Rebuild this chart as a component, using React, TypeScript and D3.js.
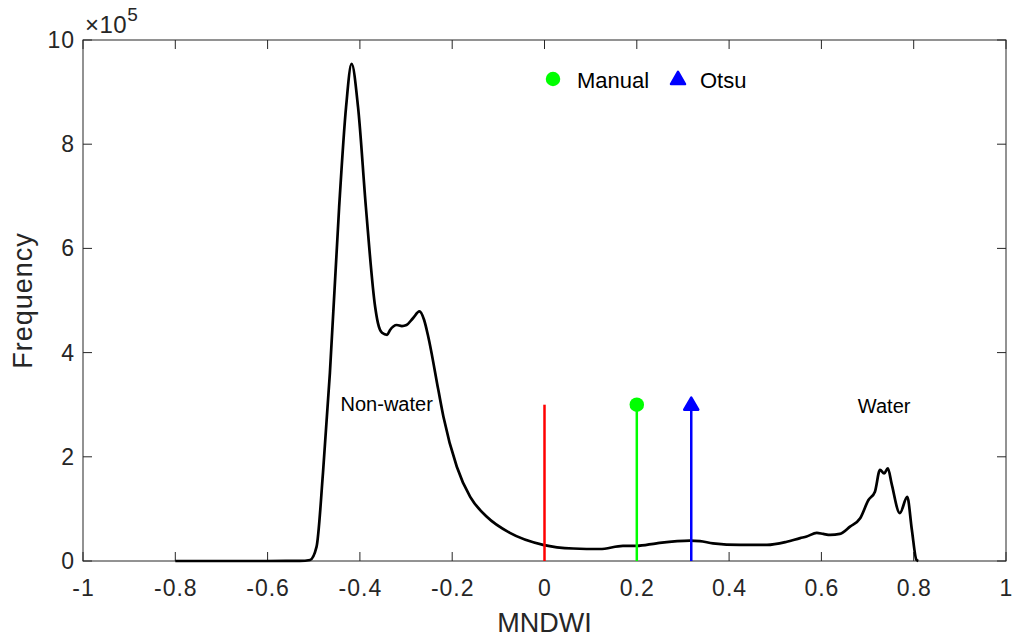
import React, { useEffect, useRef } from 'react';
import * as d3 from 'd3';

// MNDWI histogram (frequency in units of 1e5)
const mndwi = [
  -0.8, -0.7, -0.6, -0.53, -0.508, -0.494, -0.48, -0.465, -0.445, -0.43, -0.418, -0.404, -0.387, -0.367,
  -0.361, -0.352, -0.341, -0.335, -0.32, -0.309, -0.299, -0.285, -0.271, -0.261, -0.252, -0.23, -0.219,
  -0.19, -0.161, -0.125, -0.075, -0.003, 0.062, 0.12, 0.17, 0.2, 0.243, 0.315, 0.337, 0.365, 0.424, 0.482,
  0.525, 0.554, 0.568, 0.59, 0.604, 0.619, 0.64, 0.662, 0.684, 0.702, 0.716, 0.727, 0.736, 0.744, 0.752,
  0.77, 0.786, 0.796, 0.806, 0.81,
];
const frequency = [
  0, 0, 0, 0.002, 0.02, 0.27, 1.69, 3.61, 6.79, 8.71, 9.54, 8.71, 6.79, 4.88,
  4.57, 4.38, 4.34, 4.43, 4.53, 4.51, 4.53, 4.66, 4.79, 4.63, 4.31, 3.28, 2.77,
  1.81, 1.23, 0.85, 0.54, 0.31, 0.24, 0.23, 0.29, 0.29, 0.34, 0.39, 0.38, 0.34, 0.31, 0.31,
  0.37, 0.44, 0.47, 0.54, 0.52, 0.5, 0.52, 0.66, 0.82, 1.17, 1.33, 1.75, 1.68, 1.78, 1.49,
  0.92, 1.23, 0.6, 0.02, 0,
];

// thresholds drawn as stems
const thresholdNames = ['Zero', 'Manual', 'Otsu'];
const thresholdValues = [0, 0.2, 0.318];
const thresholdHeights = [3, 3, 3];
const thresholdColors = ['#ff0000', '#00ff00', '#0000ff'];

const xTicks = [-1, -0.8, -0.6, -0.4, -0.2, 0, 0.2, 0.4, 0.6, 0.8, 1];
const yTicks = [0, 2, 4, 6, 8, 10];

const W = 1013;
const H = 639;
const font = 'Liberation Sans, Arial, Helvetica, sans-serif';

const App = () => {
  const ref = useRef<SVGSVGElement>(null);

  useEffect(() => {
    const margin = { top: 40, right: 7, bottom: 78, left: 83 };
    const width = W - margin.left - margin.right;
    const height = H - margin.top - margin.bottom;

    const svg = d3.select(ref.current);
    svg.selectAll('*').remove();

    const g = svg.append('g').attr('transform', `translate(${margin.left},${margin.top})`);

    const x = d3.scaleLinear().domain([-1, 1]).range([0, width]);
    const y = d3.scaleLinear().domain([0, 10]).range([height, 0]);

    const axisColor = '#262626';

    // box
    g.append('rect')
      .attr('width', width)
      .attr('height', height)
      .attr('fill', 'none')
      .attr('stroke', axisColor)
      .attr('stroke-width', 1);

    // ticks inside on all sides
    const tickLen = 9;
    xTicks.forEach((t) => {
      g.append('line').attr('x1', x(t)).attr('x2', x(t)).attr('y1', height).attr('y2', height - tickLen).attr('stroke', axisColor);
      g.append('line').attr('x1', x(t)).attr('x2', x(t)).attr('y1', 0).attr('y2', tickLen).attr('stroke', axisColor);
      g.append('text')
        .attr('x', x(t) + 0.5)
        .attr('y', height + 35)
        .attr('text-anchor', 'middle')
        .attr('font-family', font)
        .attr('font-size', 23)
        .attr('letter-spacing', 1)
        .attr('fill', axisColor)
        .text(String(t));
    });
    yTicks.forEach((t) => {
      g.append('line').attr('x1', 0).attr('x2', tickLen).attr('y1', y(t)).attr('y2', y(t)).attr('stroke', axisColor);
      g.append('line').attr('x1', width).attr('x2', width - tickLen).attr('y1', y(t)).attr('y2', y(t)).attr('stroke', axisColor);
      g.append('text')
        .attr('x', -8)
        .attr('y', y(t) + 8)
        .attr('text-anchor', 'end')
        .attr('font-family', font)
        .attr('font-size', 23)
        .attr('letter-spacing', 1)
        .attr('fill', axisColor)
        .text(String(t));
    });

    // exponent label
    const expo = g.append('text')
      .attr('x', 2)
      .attr('y', -7)
      .attr('font-family', font)
      .attr('font-size', 24)
      .attr('letter-spacing', 0.5)
      .attr('fill', axisColor);
    expo.append('tspan').text('\u00d710');
    expo.append('tspan').attr('font-size', 19).attr('dy', -12).text('5');

    // axis titles
    g.append('text')
      .attr('x', width / 2)
      .attr('y', height + 71)
      .attr('text-anchor', 'middle')
      .attr('font-family', font)
      .attr('font-size', 27)
      .attr('fill', axisColor)
      .text('MNDWI');
    g.append('text')
      .attr('transform', `translate(${-51},${height / 2}) rotate(-90)`)
      .attr('text-anchor', 'middle')
      .attr('font-family', font)
      .attr('font-size', 27)
      .attr('letter-spacing', 1)
      .attr('fill', axisColor)
      .text('Frequency');

    // histogram curve
    const pts = mndwi.map((v, i) => [v, frequency[i]] as [number, number]);
    const line = d3.line<[number, number]>()
      .x((d) => x(d[0]))
      .y((d) => y(d[1]))
      .curve(d3.curveMonotoneX);
    g.append('path')
      .datum(pts)
      .attr('d', line)
      .attr('fill', 'none')
      .attr('stroke', '#000')
      .attr('stroke-width', 2.7)
      .attr('stroke-linejoin', 'round');

    // stems
    thresholdValues.forEach((v, i) => {
      g.append('line')
        .attr('x1', x(v))
        .attr('x2', x(v))
        .attr('y1', y(0))
        .attr('y2', y(thresholdHeights[i]))
        .attr('stroke', thresholdColors[i])
        .attr('stroke-width', 2.5);
    });
    const circle = d3.symbol().type(d3.symbolCircle).size(165);
    const tri = d3.symbol().type(d3.symbolTriangle).size(85);
    g.append('path')
      .attr('d', circle())
      .attr('transform', `translate(${x(thresholdValues[1])},${y(thresholdHeights[1])})`)
      .attr('fill', thresholdColors[1]);
    g.append('path')
      .attr('d', tri())
      .attr('transform', `translate(${x(thresholdValues[2])},${y(thresholdHeights[2]) + 1})`)
      .attr('fill', thresholdColors[2])
      .attr('stroke', thresholdColors[2])
      .attr('stroke-width', 2.5)
      .attr('stroke-linejoin', 'round');

    // legend
    const lg = g.append('g').attr('transform', `translate(${553 - margin.left},${79 - margin.top})`);
    lg.append('path').attr('d', circle()).attr('fill', thresholdColors[1]);
    lg.append('text')
      .attr('x', 24)
      .attr('y', 9)
      .attr('font-family', font)
      .attr('font-size', 22)
      .attr('fill', '#000')
      .text(thresholdNames[1]);
    lg.append('path')
      .attr('d', tri())
      .attr('transform', 'translate(125,1)')
      .attr('fill', thresholdColors[2])
      .attr('stroke', thresholdColors[2])
      .attr('stroke-width', 2.5)
      .attr('stroke-linejoin', 'round');
    lg.append('text')
      .attr('x', 147)
      .attr('y', 9)
      .attr('font-family', font)
      .attr('font-size', 22)
      .attr('fill', '#000')
      .text(thresholdNames[2]);

    // annotations
    g.append('text')
      .attr('x', x(-0.342))
      .attr('y', y(2.87))
      .attr('text-anchor', 'middle')
      .attr('font-family', font)
      .attr('font-size', 20)
      .attr('fill', '#000')
      .text('Non-water');
    g.append('text')
      .attr('x', x(0.736))
      .attr('y', y(2.84))
      .attr('text-anchor', 'middle')
      .attr('font-family', font)
      .attr('font-size', 20)
      .attr('fill', '#000')
      .text('Water');
  }, []);

  return (
    <svg
      ref={ref}
      width={W}
      height={H}
      style={{ position: 'absolute', left: 0, top: 0, background: '#fff' }}
    />
  );
};

export default App;
